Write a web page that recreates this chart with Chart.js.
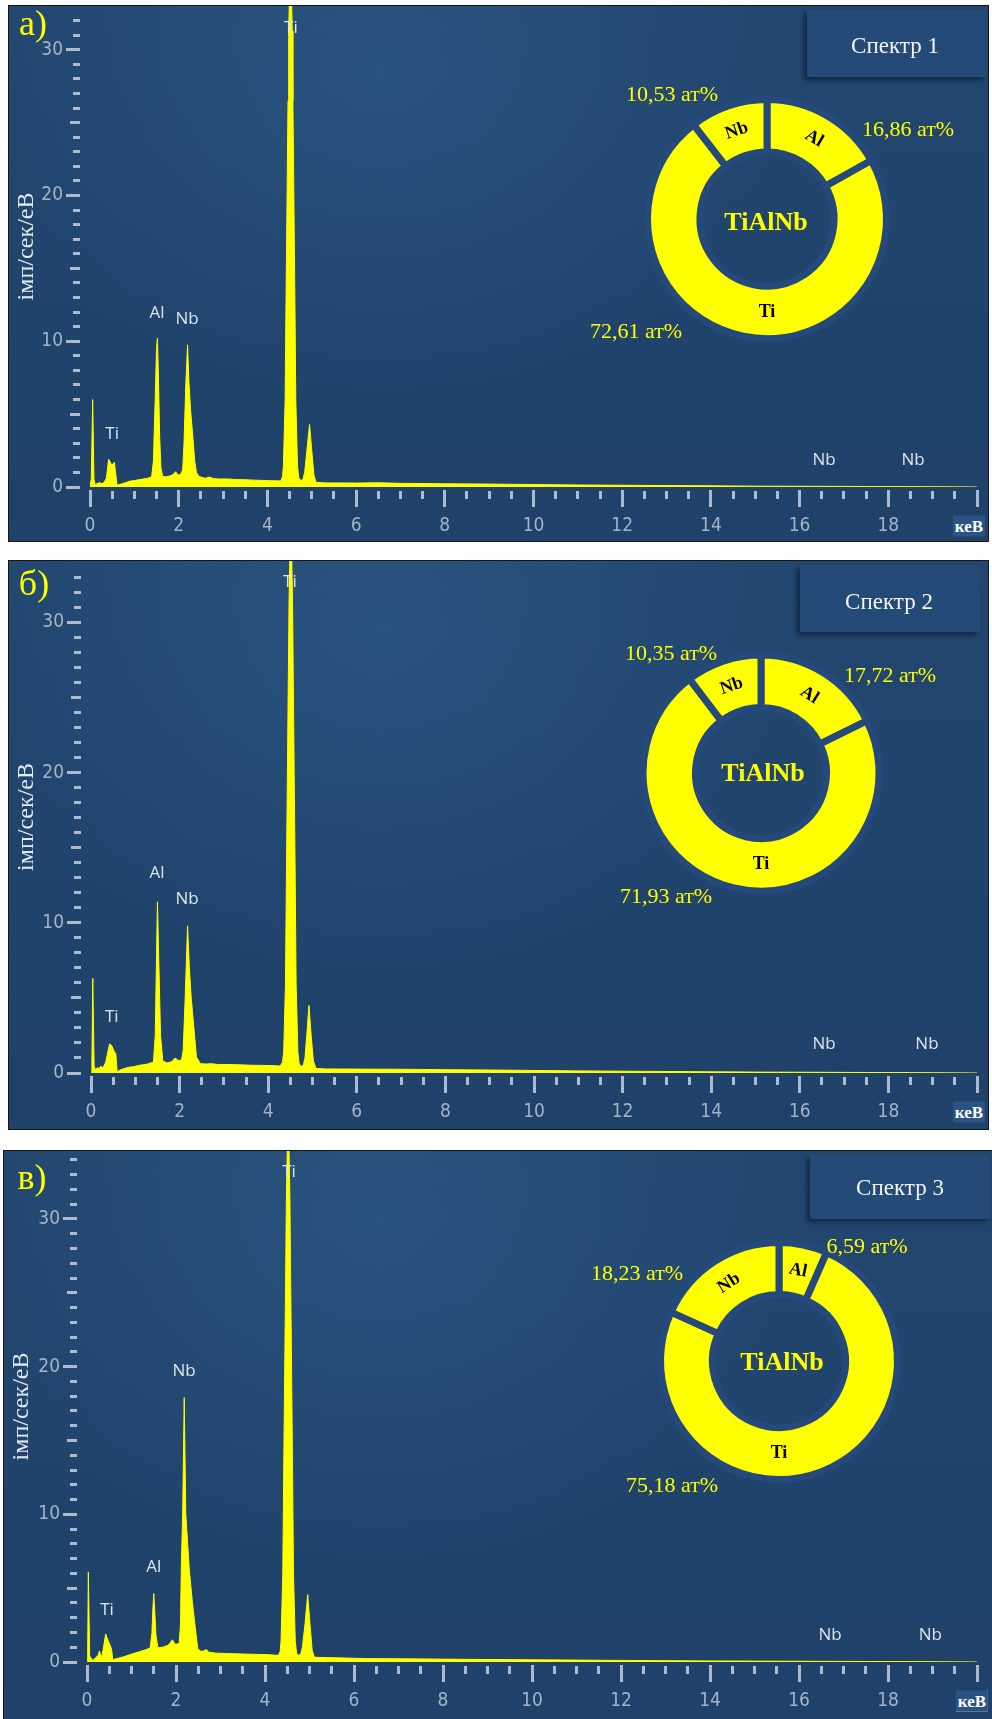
<!DOCTYPE html>
<html lang="uk">
<head>
<meta charset="utf-8">
<title>EDS spectra TiAlNb</title>
<script src="https://cdn.jsdelivr.net/npm/chart.js@4.4.1/dist/chart.umd.min.js"></script>
<style>
  html, body { margin:0; padding:0; background:#ffffff; }
  body { position:relative; width:992px; height:1719px; overflow:hidden; }
  .panel { position:absolute; box-sizing:border-box; border:1px solid #161616; overflow:hidden;
    background:
      radial-gradient(ellipse 55% 85% at 38% 12%, rgba(50,98,148,0.45) 0%, rgba(50,98,148,0) 75%),
      linear-gradient(180deg, #22476f 0%, #1f416a 100%); }
  .panel canvas { position:absolute; left:0; top:0; }
  .donut { position:absolute; }
  .txt { position:absolute; transform:translate(-50%,-50%); white-space:nowrap; line-height:1;
         font-family:"Liberation Serif","Times New Roman",serif; }
  .pct { color:#ffff00; font-size:22px; }
  .mid { color:#ffff00; font-size:26px; font-weight:bold; }
  .letter { color:#ffff00; font-size:36px; }
  .box { position:absolute; background:#244a77; box-shadow:-3px 3px 5px rgba(0,0,0,0.45); }
  .spec { color:#f4f4f4; font-size:23px; }
  .kev { color:#ffffff; font-size:17px; font-weight:bold; background:#2a5383; padding:2px 2px; }
</style>
</head>
<body>
<div class="panel" style="left:8px;top:5px;width:981px;height:537px;"><canvas id="specA" width="979" height="535"></canvas></div>
<div class="panel" style="left:8px;top:560px;width:981px;height:570px;"><canvas id="specB" width="979" height="568"></canvas></div>
<div class="panel" style="left:3px;top:1150px;width:990px;height:570px;"><canvas id="specC" width="988" height="568"></canvas></div>

<canvas class="donut" id="donutA" width="256" height="256" style="left:639px;top:91px;"></canvas>
<canvas class="donut" id="donutB" width="256" height="256" style="left:633px;top:645px;"></canvas>
<canvas class="donut" id="donutC" width="256" height="256" style="left:651px;top:1233px;"></canvas>

<!-- panel а -->
<div class="txt letter" style="left:33px;top:23px;">а)</div>
<div class="box" style="left:807px;top:10px;width:180px;height:67px;"></div>
<div class="txt spec" style="left:895px;top:45px;">Спектр 1</div>
<div class="txt pct" style="left:672px;top:94px;">10,53 ат%</div>
<div class="txt pct" style="left:908px;top:129px;">16,86 ат%</div>
<div class="txt pct" style="left:636px;top:331px;">72,61 ат%</div>
<div class="txt mid" style="left:766px;top:222px;">TiAlNb</div>
<div class="txt kev" style="left:969px;top:526px;">кеВ</div>

<!-- panel б -->
<div class="txt letter" style="left:34px;top:583px;">б)</div>
<div class="box" style="left:800px;top:565px;width:180px;height:67px;"></div>
<div class="txt spec" style="left:889px;top:601px;">Спектр 2</div>
<div class="txt pct" style="left:671px;top:653px;">10,35 ат%</div>
<div class="txt pct" style="left:890px;top:675px;">17,72 ат%</div>
<div class="txt pct" style="left:666px;top:896px;">71,93 ат%</div>
<div class="txt mid" style="left:763px;top:773px;">TiAlNb</div>
<div class="txt kev" style="left:969px;top:1112px;">кеВ</div>

<!-- panel в -->
<div class="txt letter" style="left:32px;top:1177px;">в)</div>
<div class="box" style="left:810px;top:1155px;width:180px;height:64px;"></div>
<div class="txt spec" style="left:900px;top:1187px;">Спектр 3</div>
<div class="txt pct" style="left:867px;top:1246px;">6,59 ат%</div>
<div class="txt pct" style="left:637px;top:1273px;">18,23 ат%</div>
<div class="txt pct" style="left:672px;top:1485px;">75,18 ат%</div>
<div class="txt mid" style="left:782px;top:1362px;">TiAlNb</div>
<div class="txt kev" style="left:972px;top:1701px;">кеВ</div>

<script>
// ---------- Spectrum а) (Спектр 1): energy, keV / counts, імп/сек/еВ ----------
const energyA = [
  0.00, 0.03, 0.06, 0.09, 0.12, 0.17, 0.22, 0.27, 0.32, 0.37,
  0.42, 0.45, 0.49, 0.52, 0.55, 0.58, 0.61, 0.70, 0.80, 0.90,
  1.00, 1.10, 1.20, 1.30, 1.39, 1.43, 1.47, 1.50, 1.52, 1.54,
  1.57, 1.60, 1.64, 1.72, 1.80, 1.87, 1.93, 1.99, 2.05, 2.09,
  2.12, 2.16, 2.20, 2.23, 2.27, 2.32, 2.36, 2.40, 2.45, 2.52,
  2.60, 2.69, 2.78, 2.90, 3.10, 3.30, 3.50, 3.70, 3.90, 4.10,
  4.30, 4.34, 4.36, 4.40, 4.42, 4.465, 4.48, 4.52, 4.56, 4.575,
  4.62, 4.64, 4.68, 4.71, 4.76, 4.80, 4.84, 4.89, 4.95, 5.00,
  5.05, 5.10, 5.30, 5.60, 6.00, 6.50, 7.00, 7.50, 8.00, 9.00,
  10.0, 11.0, 12.0, 13.0, 14.0, 15.0, 16.0, 17.0, 18.0, 19.0, 20.0
];
const countsA = [
  0.00, 0.60, 6.00, 0.50, 0.15, 0.25, 0.30, 0.22, 0.35, 0.60,
  1.90, 1.75, 1.50, 1.60, 1.70, 0.90, 0.12, 0.20, 0.30, 0.40,
  0.44, 0.50, 0.55, 0.60, 0.70, 1.80, 6.00, 9.50, 10.2, 8.00,
  3.50, 1.30, 0.72, 0.70, 0.75, 0.85, 1.05, 0.82, 0.88, 1.20,
  3.00, 7.00, 9.75, 7.20, 5.20, 3.40, 1.80, 1.00, 0.75, 0.66,
  0.60, 0.68, 0.58, 0.55, 0.55, 0.51, 0.50, 0.47, 0.45, 0.43,
  0.42, 0.70, 1.40, 6.00, 12.8, 26.5, 31.3, 37.0, 31.3, 26.5,
  12.8, 6.00, 1.40, 0.60, 0.45, 0.50, 1.00, 2.50, 4.30, 2.50,
  0.80, 0.32, 0.28, 0.28, 0.27, 0.29, 0.25, 0.24, 0.22, 0.20,
  0.17, 0.14, 0.12, 0.10, 0.08, 0.06, 0.05, 0.04, 0.03, 0.02, 0.00
];

// ---------- Spectrum б) (Спектр 2) ----------
const energyB = [
  0.00, 0.02, 0.04, 0.07, 0.10, 0.14, 0.18, 0.22, 0.27, 0.33,
  0.42, 0.47, 0.53, 0.56, 0.59, 0.70, 0.85, 0.96, 1.10, 1.26,
  1.41, 1.45, 1.48, 1.50, 1.53, 1.57, 1.62, 1.72, 1.82, 1.90,
  1.96, 2.04, 2.08, 2.12, 2.18, 2.22, 2.26, 2.32, 2.38, 2.47,
  2.60, 2.72, 2.85, 3.22, 3.60, 4.00, 4.27, 4.32, 4.35, 4.39,
  4.41, 4.455, 4.47, 4.51, 4.55, 4.565, 4.61, 4.63, 4.67, 4.70,
  4.75, 4.79, 4.83, 4.87, 4.92, 4.97, 5.02, 5.08, 5.30, 6.00,
  7.00, 8.00, 9.00, 10.0, 11.0, 12.0, 13.0, 14.0, 15.0, 16.0,
  17.0, 18.0, 19.0, 20.0
];
const countsB = [
  0.00, 0.50, 6.30, 0.50, 0.20, 0.35, 0.30, 0.45, 0.35, 0.70,
  1.95, 1.80, 1.40, 1.30, 0.10, 0.25, 0.38, 0.42, 0.52, 0.58,
  0.73, 2.50, 8.00, 11.4, 7.50, 2.50, 0.80, 0.67, 0.75, 1.00,
  0.85, 0.84, 1.50, 4.50, 9.80, 7.00, 5.10, 3.10, 1.07, 0.62,
  0.60, 0.62, 0.57, 0.56, 0.52, 0.50, 0.47, 0.70, 1.40, 6.00,
  12.8, 26.5, 31.3, 38.0, 31.3, 26.5, 12.8, 6.00, 1.40, 0.60,
  0.45, 0.50, 1.00, 2.50, 4.50, 2.50, 0.80, 0.30, 0.27, 0.26,
  0.25, 0.22, 0.20, 0.17, 0.14, 0.12, 0.10, 0.08, 0.06, 0.05,
  0.04, 0.03, 0.02, 0.00
];

// ---------- Spectrum в) (Спектр 3) ----------
const energyC = [
  0.000, 0.015, 0.03, 0.06, 0.13, 0.20, 0.25, 0.28, 0.32, 0.36,
  0.42, 0.47, 0.52, 0.55, 0.58, 0.70, 0.81, 0.92, 1.03, 1.18,
  1.33, 1.42, 1.46, 1.48, 1.50, 1.52, 1.55, 1.59, 1.63, 1.72,
  1.82, 1.87, 1.92, 1.96, 1.99, 2.07, 2.10, 2.12, 2.15, 2.185,
  2.22, 2.30, 2.37, 2.43, 2.49, 2.56, 2.62, 2.68, 2.74, 2.90,
  3.28, 3.66, 4.03, 4.30, 4.34, 4.36, 4.40, 4.42, 4.465, 4.48,
  4.52, 4.56, 4.575, 4.62, 4.64, 4.68, 4.71, 4.76, 4.80, 4.84,
  4.90, 4.96, 5.01, 5.06, 5.11, 5.40, 6.28, 7.00, 8.50, 10.0,
  11.0, 12.0, 13.0, 14.0, 15.0, 16.0, 17.0, 18.0, 19.0, 20.0
];
const countsC = [
  0.00, 0.50, 6.10, 0.40, 0.10, 0.30, 0.45, 0.75, 0.25, 0.80,
  1.90, 1.47, 1.13, 0.90, 0.16, 0.25, 0.34, 0.45, 0.56, 0.70,
  0.84, 0.95, 2.00, 3.60, 4.63, 3.60, 1.80, 1.00, 0.97, 1.02,
  1.13, 1.30, 1.50, 1.30, 1.20, 1.24, 2.50, 6.50, 10.0, 17.9,
  10.0, 6.20, 4.00, 2.40, 0.90, 0.72, 0.75, 0.84, 0.66, 0.60,
  0.56, 0.53, 0.50, 0.45, 0.70, 1.40, 6.00, 12.8, 26.5, 31.3,
  38.0, 31.3, 26.5, 12.8, 6.00, 1.40, 0.60, 0.45, 0.50, 1.00,
  2.60, 4.56, 2.60, 0.80, 0.32, 0.30, 0.23, 0.22, 0.18, 0.15,
  0.13, 0.11, 0.09, 0.07, 0.06, 0.05, 0.04, 0.03, 0.02, 0.00
];

// ---------- Peak labels (element, line energy keV, label height in counts) ----------
const peakNames   = ['Ti', 'Al', 'Nb', 'Ti', 'Nb', 'Nb'];
const peakEnergyA = [0.50, 1.51, 2.19, 4.53, 16.55, 18.56];
const peakHeightA = [3.6, 11.9, 11.5, 31.5, 1.85, 1.85];
const peakEnergyB = [0.47, 1.49, 2.17, 4.49, 16.55, 18.87];
const peakHeightB = [3.7, 13.3, 11.6, 32.7, 1.9, 1.9];
const peakEnergyC = [0.45, 1.50, 2.18, 4.54, 16.70, 18.95];
const peakHeightC = [3.5, 6.4, 19.7, 33.2, 1.8, 1.8];

// ---------- Composition, ат% ----------
const elements     = ['Al', 'Ti', 'Nb'];
const compositionA = [16.86, 72.61, 10.53];
const compositionB = [17.72, 71.93, 10.35];
const compositionC = [6.59, 75.18, 18.23];

// ---------- Axis ticks ----------
const xTickValues = [0, 0.5, 1, 1.5, 2, 2.5, 3, 3.5, 4, 4.5, 5, 5.5, 6, 6.5, 7, 7.5, 8, 8.5, 9, 9.5,
                     10, 10.5, 11, 11.5, 12, 12.5, 13, 13.5, 14, 14.5, 15, 15.5, 16, 16.5, 17, 17.5, 18, 18.5, 19, 19.5, 20];
const xTickLabels = [0, 2, 4, 6, 8, 10, 12, 14, 16, 18];
const yTickValues = [0, 1, 2, 3, 4, 5, 6, 7, 8, 9, 10, 11, 12, 13, 14, 15, 16, 17, 18, 19, 20,
                     21, 22, 23, 24, 25, 26, 27, 28, 29, 30, 31, 32, 33, 34];
const yTickLabels = [0, 10, 20, 30];

// ---------- helpers ----------
const TICK_COLOR = '#aebbcc';
const TICK_FONT = { family: '"Liberation Sans Narrow","DejaVu Sans Condensed","Liberation Sans",sans-serif', size: 19 };
const TICK_TEXT = '#a3b3c8';

function peakPlugin(names, energy, height) {
  return {
    id: 'peakLabels',
    afterDatasetsDraw(chart) {
      const { ctx, scales: { x, y } } = chart;
      ctx.save();
      ctx.font = '17px "Open Sans","Liberation Sans",sans-serif';
      ctx.fillStyle = '#dfe5ec';
      ctx.textAlign = 'center';
      ctx.textBaseline = 'middle';
      names.forEach((n, i) => ctx.fillText(n, x.getPixelForValue(energy[i]), y.getPixelForValue(height[i])));
      ctx.restore();
    }
  };
}

function spectrum(id, energy, counts, yMax, chartLeft, padRight, axisH, peaks) {
  const pts = energy.map((e, i) => ({ x: e, y: counts[i] }));
  return new Chart(document.getElementById(id), {
    type: 'line',
    data: { datasets: [{
      data: pts, borderColor: '#ffff00', backgroundColor: '#ffff00',
      borderWidth: 1, pointRadius: 0, fill: 'origin', tension: 0
    }] },
    options: {
      responsive: false, animation: false, events: [],
      layout: { padding: { left: 0, right: padRight, top: 0, bottom: 0 }, autoPadding: false },
      plugins: { legend: { display: false }, tooltip: { enabled: false } },
      scales: {
        x: {
          type: 'linear', min: 0, max: 20,
          afterFit: s => { s.height = axisH; s.paddingLeft = 0; s.paddingRight = 0; },
          afterBuildTicks: s => { s.ticks = xTickValues.map(v => ({ value: v })); },
          border: { display: false },
          grid: {
            drawOnChartArea: false, drawTicks: true, tickLength: 20, tickWidth: 3, tickColor: TICK_COLOR,
            tickBorderDash: c => (c.tick && c.tick.value % 2 === 0) ? [0, 3, 17, 100] : [0, 4, 8, 100]
          },
          ticks: {
            autoSkip: false, maxRotation: 0, padding: 8, color: TICK_TEXT, font: TICK_FONT,
            callback: v => xTickLabels.includes(v) ? String(v) : ''
          }
        },
        y: {
          type: 'linear', min: 0, max: yMax,
          afterFit: s => { s.width = chartLeft; s.paddingTop = 0; s.paddingBottom = 0; },
          afterBuildTicks: s => { s.ticks = yTickValues.filter(v => v <= yMax - 0.6).map(v => ({ value: v })); },
          border: { display: false },
          grid: {
            drawOnChartArea: false, drawTicks: true, tickLength: 24, tickWidth: 3, tickColor: TICK_COLOR,
            tickBorderDash: c => {
              const v = c.tick ? c.tick.value : 1;
              if (v % 10 === 0) return [14, 100];
              if (v % 5 === 0) return [0, 4, 10, 100];
              return [0, 7, 7, 100];
            }
          },
          ticks: {
            autoSkip: false, padding: 3, color: TICK_TEXT, font: TICK_FONT,
            callback: v => yTickLabels.includes(v) ? String(v) : ''
          },
          title: {
            display: true, text: 'імп/сек/еВ', color: '#e4eaf2',
            font: { family: '"Liberation Serif","Times New Roman",serif', size: 24 },
            padding: { top: 3, bottom: 0 }
          }
        }
      }
    },
    plugins: [peaks]
  });
}

function arcLabelPlugin(names) {
  return {
    id: 'arcLabels',
    afterDatasetsDraw(chart) {
      const ctx = chart.ctx;
      const meta = chart.getDatasetMeta(0);
      ctx.save();
      ctx.font = 'bold 18px "Liberation Serif","Times New Roman",serif';
      ctx.fillStyle = '#000000';
      ctx.textAlign = 'center';
      ctx.textBaseline = 'middle';
      meta.data.forEach((arc, i) => {
        const p = arc.getProps(['x', 'y', 'startAngle', 'endAngle', 'innerRadius', 'outerRadius'], true);
        const r = (p.innerRadius + p.outerRadius) / 2;
        let a, rot;
        if (p.endAngle - p.startAngle > Math.PI) { a = Math.PI / 2; rot = 0; }
        else {
          a = (p.startAngle + p.endAngle) / 2;
          const th = a + Math.PI / 2;
          rot = Math.cos(th) >= 0 ? th : th - Math.PI;
        }
        ctx.save();
        ctx.translate(p.x + Math.cos(a) * r, p.y + Math.sin(a) * r);
        ctx.rotate(rot);
        ctx.fillText(names[i], 0, 0);
        ctx.restore();
      });
      ctx.restore();
    }
  };
}

function donut(id, values, radius, cutout, gapColor) {
  return new Chart(document.getElementById(id), {
    type: 'doughnut',
    data: { labels: elements, datasets: [{
      data: values, backgroundColor: '#ffff00', borderColor: gapColor,
      borderWidth: 7, borderAlign: 'center', borderJoinStyle: 'miter'
    }] },
    options: {
      responsive: false, animation: false, events: [],
      radius: radius, cutout: cutout, rotation: 0,
      layout: { padding: 0, autoPadding: false },
      plugins: { legend: { display: false }, tooltip: { enabled: false } }
    },
    plugins: [arcLabelPlugin(elements)]
  });
}

spectrum('specA', energyA, countsA, 33.0, 81, 11, 54, peakPlugin(peakNames, peakEnergyA, peakHeightA));
spectrum('specB', energyB, countsB, 34.1, 82, 11, 56, peakPlugin(peakNames, peakEnergyB, peakHeightB));
spectrum('specC', energyC, countsC, 34.6, 83, 15, 57, peakPlugin(peakNames, peakEnergyC, peakHeightC));

donut('donutA', compositionA, 119.5, '56.1%', '#24497a');
donut('donutB', compositionB, 118, '55.5%', '#24497a');
donut('donutC', compositionC, 118.5, '56.1%', '#24497a');
</script>
</body>
</html>
